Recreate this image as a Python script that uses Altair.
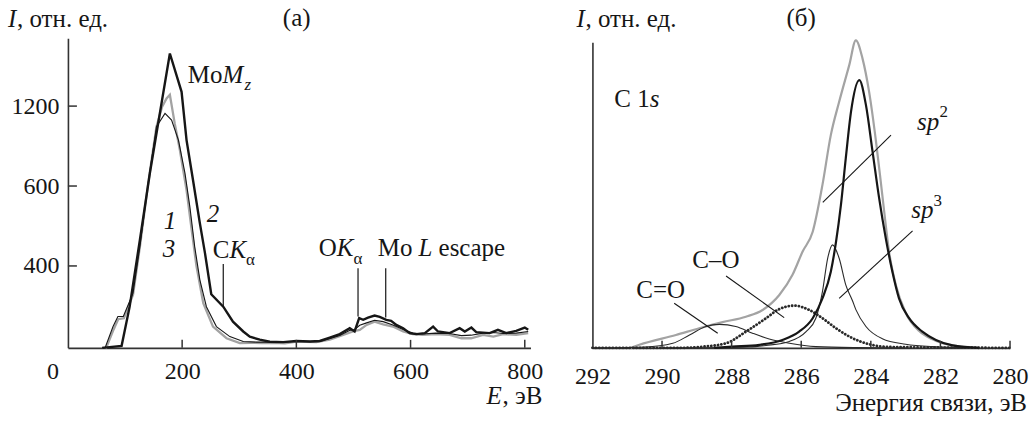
import altair as alt
import pandas as pd

FONT = "Liberation Serif, Times New Roman, Times, serif"
INK = "#161616"
GREY = "#a3a3a3"

# ---------------- panel (а): EDX spectra, E (eV) vs I ----------------
e_1 = [60, 65, 79, 87.5, 97, 114, 126, 140.5, 155, 170, 181.5, 193.5, 205, 213.5, 222, 231, 242.5, 260, 283.5, 307,
       330, 353, 377, 400, 424, 441, 458, 476, 493, 502, 511, 523, 537, 552, 569, 587, 604, 621, 644, 668,
       689, 706, 727, 745, 762, 785, 806]
i_1 = [0, 0, 104, 153, 153, 267, 448, 620, 1045, 1145, 1095, 945, 695, 548, 448, 332, 201, 104, 55, 31,
       28, 28, 28, 30, 30, 30, 45, 60, 85, 90, 110, 122, 135, 128, 112, 90, 72, 68, 72, 70,
       60, 62, 72, 75, 70, 72, 80]
e_2 = [60, 94, 108, 126, 143.5, 158, 178.5, 199, 207.7, 219, 231, 240, 251, 272, 289, 307, 318.5, 336, 353.5, 377,
       400, 424, 441, 458.5, 476, 493.5, 502, 510, 517, 525.5, 537, 546, 557.5, 566, 575, 587, 598.5, 610, 625, 639.5,
       648, 668.5, 686, 695, 706.5, 715, 738.5, 753, 767.5, 785, 800, 806]
i_2 = [0, 10, 200, 465, 697, 1070, 1595, 1307, 945, 645, 507, 432, 262, 201, 128, 80, 55, 40, 30, 28,
       34, 31, 34, 50, 67, 96, 80, 145, 137, 148, 158, 151, 137, 132, 112, 96, 72, 67, 72, 104,
       80, 72, 96, 80, 99, 77, 72, 88, 72, 83, 99, 88]
e_3 = [60, 67, 80, 88, 98, 114, 126, 140.5, 155, 165, 172.7, 178.5, 187, 196, 207.7, 216, 225, 237, 254, 277.7,
       301, 320, 340, 360, 380, 400, 435, 458.5, 482, 499, 511, 523, 537, 552, 569, 587, 604, 621, 644, 668.5,
       689, 706, 727, 745, 762, 785, 806]
i_3 = [0, 0, 90, 140, 145, 260, 448, 620, 1045, 1195, 1258, 1285, 1070, 870, 590, 498, 400, 218, 104, 47,
       23, 25, 23, 24, 22, 31, 28, 40, 63, 80, 88, 112, 128, 115, 104, 80, 67, 63, 67, 63,
       47, 47, 63, 55, 67, 63, 72]
x_ticks_a = [200, 400, 600, 800]
y_ticks_a = [400, 600, 1200]
# the printed axis is not linear: 0, 400, 600, 1200 sit at equal steps
y_breaks_a = [0, 400, 600, 1200, 1710]

# ---------------- panel (б): C 1s, binding energy (eV) ----------------
be_total = [290.9, 290.65, 289.6, 288.93, 288.26, 287.59, 287.11, 286.63, 286.25, 285.96, 285.67, 285.39, 285.15, 284.91,
            284.62, 284.43, 284.24, 284.05, 283.85, 283.67, 283.47, 283.28, 283.0, 282.61, 282.23, 281.94, 281.37, 280.9]
i_total = [0, 1, 4.2, 6.4, 8.4, 10.2, 12.4, 17.3, 23.9, 31.5, 38, 53.3, 69.6, 80.5,
           92.5, 100.6, 94.7, 83.8, 67.4, 50, 31, 20.5, 11.5, 5.5, 2.8, 1.5, 0.4, 0]
be_sp2 = [288.5, 287.98, 287.2, 286.54, 286.06, 285.67, 285.39, 285.15, 285.0, 284.86, 284.72, 284.57, 284.33, 284.14,
          283.95, 283.76, 283.57, 283.38, 283.19, 282.9, 282.52, 282.13, 281.65, 280.9]
i_sp2 = [0, 0.4, 1, 2.6, 5.3, 9.7, 16.2, 24.9, 34.7, 46.7, 62, 77.2, 87.6, 79.4,
         64.2, 48.9, 35.8, 24.9, 16.2, 9.7, 5.3, 2.6, 0.8, 0]
be_sp3 = [290, 287.5, 287.01, 286.34, 285.86, 285.58, 285.39, 285.24, 285.1, 284.91, 284.72, 284.53, 284.43, 284.14,
          283.67, 283.0, 282.23, 281]
i_sp3 = [0, 0.3, 0.8, 2.1, 5.3, 9.7, 18.4, 29.3, 33.7, 29.3, 20.6, 15.5, 12.5, 7,
         3, 1.2, 0.4, 0]
be_co = [292, 289.5, 288.83, 288.16, 287.59, 287.01, 286.63, 286.2, 285.77, 285.39, 285.0, 284.53, 284.05, 283.5, 280]
i_co = [0, 0, 0.4, 1.5, 5.3, 9.7, 12.7, 13.8, 12.4, 9.7, 6.4, 3.2, 1.2, 0.3, 0]
be_cdo = [292, 290.5, 289.69, 289.21, 288.74, 288.35, 287.88, 287.4, 286.92, 286.34, 285.58, 284.5, 283]
i_cdo = [0, 0.3, 1.5, 4.2, 7.0, 7.7, 7.0, 4.8, 2.9, 1.5, 0.4, 0.1, 0]
x_ticks_b = [292, 290, 288, 286, 284, 282, 280]
x_inner_ticks_b = [290, 288, 286, 284, 282, 280]

W_A, W_B, H = 463, 418, 310
TICK_LABEL = 24
TXT = 25
SUB = 17
PAD_A = 12
PAD_B = 17

# ---------------- helpers ----------------
def text_px(t, x, y, size=TXT, style="normal", align="left", baseline="middle"):
    return alt.Chart(pd.DataFrame({"t": [t]})).mark_text(
        font=FONT, fontSize=size, fontStyle=style, align=align, baseline=baseline, color=INK
    ).encode(x=alt.value(x), y=alt.value(y), text="t:N")


def text_data(df, xenc, yenc, size=TXT, style="normal", align="left"):
    return alt.Chart(df).mark_text(
        font=FONT, fontSize=size, fontStyle=style, align=align, baseline="middle", color=INK
    ).encode(x=xenc, y=yenc, text="t:N")


# ---------------- panel (а) ----------------
xa = alt.X("E:Q", scale=alt.Scale(domain=[0, 810], nice=False, zero=False),
           axis=alt.Axis(values=x_ticks_a, title=None, ticks=False, tickSize=0, labelPadding=PAD_A,
                         labelFlush=False, grid=False, format="d"))
ya = alt.Y("I:Q", scale=alt.Scale(domain=y_breaks_a, range=[H, 228, 148, 68, 0], nice=False, zero=False),
           axis=alt.Axis(values=y_ticks_a, title=None, ticks=False, tickSize=0, labelPadding=9, grid=False,
                         format="d"))

df1 = pd.DataFrame({"E": e_1, "I": i_1})
df2 = pd.DataFrame({"E": e_2, "I": i_2})
df3 = pd.DataFrame({"E": e_3, "I": i_3})

line3 = alt.Chart(df3).mark_line(color=GREY, strokeWidth=2.3).encode(x=xa, y=ya)
line1 = alt.Chart(df1).mark_line(color=INK, strokeWidth=1.1).encode(x=xa, y=ya)
line2 = alt.Chart(df2).mark_line(color=INK, strokeWidth=2.4).encode(x=xa, y=ya)

ptr_a = alt.Chart(pd.DataFrame({"E": [272, 508, 556.5], "I": [201, 153, 148], "I2": [405, 389, 389]})).mark_rule(
    color=INK, strokeWidth=1.2).encode(x=xa, y=ya, y2="I2:Q")
xt_a = alt.Chart(pd.DataFrame({"E": x_ticks_a})).mark_rule(color="#333", strokeWidth=1.5).encode(
    x=xa, y=alt.value(H), y2=alt.value(H - 8))
yt_a = alt.Chart(pd.DataFrame({"I": y_ticks_a})).mark_rule(color="#333", strokeWidth=1.5).encode(
    y=ya, x=alt.value(0), x2=alt.value(9))

lab_reg_a = pd.DataFrame({"E": [210, 253.8, 439.3, 542.5], "I": [1432, 440, 445, 445], "t": ["Mo", "C", "O", "Mo"]})
lab_it_a = pd.DataFrame({"E": [270.7, 283, 470.8, 614], "I": [1432, 440, 445, 445], "t": ["M", "K", "K", "L"]})
lab_sub_a = pd.DataFrame({"E": [309, 312, 500], "I": [1362, 415, 418], "t": ["z", "α", "α"]})
lab_esc = pd.DataFrame({"E": [649], "I": [445], "t": ["escape"]})
lab_num = pd.DataFrame({"E": [178.5, 254, 177], "I": [512, 530, 442], "t": ["1", "2", "3"]})

panel_a = alt.layer(
    line3, line1, line2, ptr_a, xt_a, yt_a,
    text_data(lab_reg_a, xa, ya),
    text_data(lab_it_a, xa, ya, style="italic"),
    text_data(lab_sub_a.iloc[:1], xa, ya, size=SUB, style="italic"),
    text_data(lab_sub_a.iloc[1:], xa, ya, size=SUB),
    text_data(lab_esc, xa, ya),
    text_data(lab_num, xa, ya, style="italic", align="center"),
    text_px("0", -15, H + PAD_A, size=TICK_LABEL, align="center", baseline="top"),
    text_px("I", -60, -19, style="italic"),
    text_px(", отн. ед.", -51, -19),
    text_px("(а)", 229, -20, align="center"),
    text_px("E", 419, 358, style="italic"),
    text_px(", эВ", 475, 358, align="right"),
).properties(width=W_A, height=H)

# ---------------- panel (б) ----------------
xb = alt.X("BE:Q", scale=alt.Scale(domain=[280, 292], reverse=True, nice=False, zero=False),
           axis=alt.Axis(values=x_ticks_b, title=None, ticks=False, tickSize=0, labelPadding=PAD_B,
                         labelFlush=False, grid=False, format="d"))
yb = alt.Y("I:Q", scale=alt.Scale(domain=[0, 100], range=[H, 4], nice=False, zero=False),
           axis=alt.Axis(labels=False, ticks=False, title=None, grid=False))

tot = alt.Chart(pd.DataFrame({"BE": be_total, "I": i_total})).mark_line(
    color=GREY, strokeWidth=2.2, interpolate="monotone").encode(x=xb, y=yb)
cdo = alt.Chart(pd.DataFrame({"BE": be_cdo, "I": i_cdo})).mark_line(
    color="#2a2a2a", strokeWidth=1.1, interpolate="monotone").encode(x=xb, y=yb)
co = alt.Chart(pd.DataFrame({"BE": be_co, "I": i_co})).mark_line(
    color="#2a2a2a", strokeWidth=2.8, strokeDash=[0.1, 3.3], strokeCap="round", interpolate="monotone").encode(x=xb, y=yb)
sp3 = alt.Chart(pd.DataFrame({"BE": be_sp3, "I": i_sp3})).mark_line(
    color="#2a2a2a", strokeWidth=1.1, interpolate="monotone").encode(x=xb, y=yb)
sp2 = alt.Chart(pd.DataFrame({"BE": be_sp2, "I": i_sp2})).mark_line(
    color=INK, strokeWidth=2.2, interpolate="monotone").encode(x=xb, y=yb)

ptr_b = alt.Chart(pd.DataFrame({"BE": [283.42, 282.8, 288.16, 289.65], "I": [69.6, 38.3, 23.5, 14.6],
                                "BE2": [285.38, 284.91, 286.49, 288.4], "I2": [47.6, 16.2, 9.9, 4.8]})).mark_rule(
    color=INK, strokeWidth=1.1).encode(x=xb, y=yb, x2="BE2:Q", y2="I2:Q")
xt_b = alt.Chart(pd.DataFrame({"BE": x_inner_ticks_b})).mark_rule(color="#333", strokeWidth=1.5).encode(
    x=xb, y=alt.value(H), y2=alt.value(H - 7))

lab_it_b = pd.DataFrame({"BE": [282.67, 282.84, 290.35], "I": [73.9, 45.1, 81.4], "t": ["sp", "sp", "s"]})
lab_sup_b = pd.DataFrame({"BE": [282.03, 282.2], "I": [77.0, 48.2], "t": ["2", "3"]})
lab_reg_b = pd.DataFrame({"BE": [289.13, 290.74, 291.37], "I": [28.8, 19, 81.4], "t": ["C–O", "C=O", "C 1"]})

panel_b = alt.layer(
    tot, cdo, co, sp3, sp2, ptr_b, xt_b,
    text_data(lab_it_b, xb, yb, style="italic"),
    text_data(lab_sup_b, xb, yb, size=SUB),
    text_data(lab_reg_b, xb, yb),
    text_px("I", -16, -19, style="italic"),
    text_px(", отн. ед.", -7, -19),
    text_px("(б)", 209, -20, align="center"),
    text_px("Энергия связи, эВ", 435, 365, align="right"),
).properties(width=W_B, height=H)

chart = alt.hconcat(panel_a, panel_b, spacing=62, bounds="flush").properties(
    padding={"left": 8, "top": 6, "right": 6, "bottom": 2}
).configure_view(stroke=None).configure_axis(
    domainColor="#333", domainWidth=1.6, labelFont=FONT, labelFontSize=TICK_LABEL, labelColor=INK
)

chart.save("out.html", embed_options={"renderer": "svg", "actions": False})
